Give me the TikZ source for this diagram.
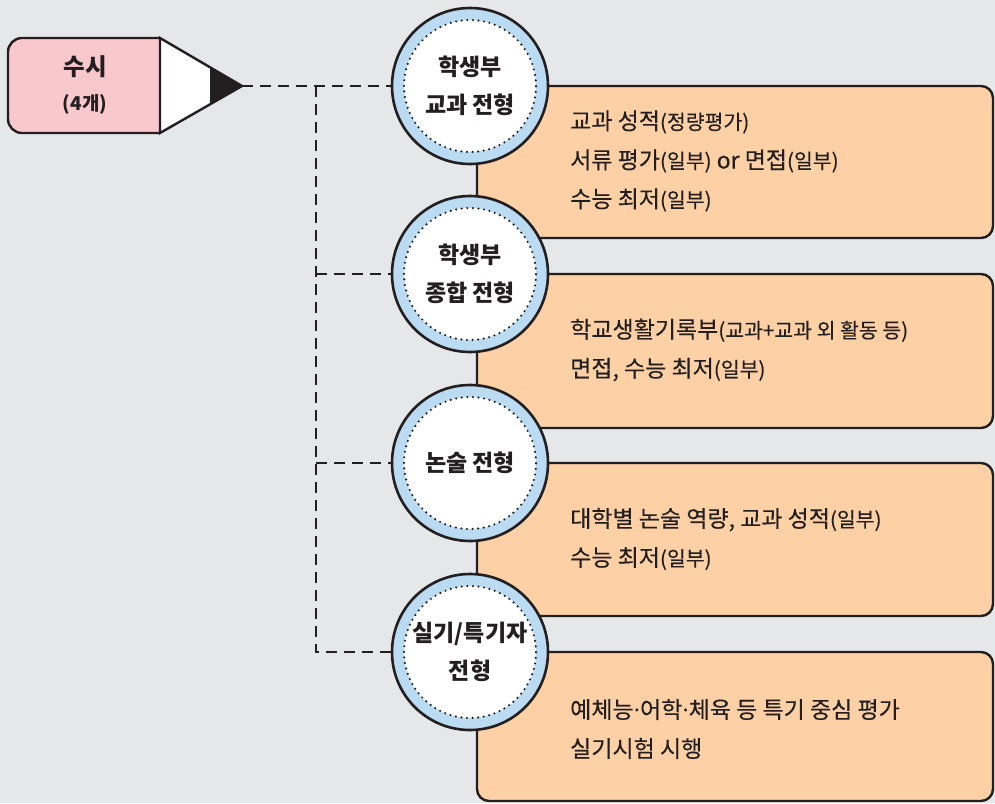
\documentclass[tikz,border=0pt]{standalone}
\usepackage{fontspec}
\setmainfont{Noto Sans CJK KR}
\newfontfamily\krmid{Noto Sans CJK KR}[FakeBold=0.3]
\definecolor{bg}{HTML}{E6E7E9}
\definecolor{ink}{HTML}{231F20}
\definecolor{peach}{HTML}{FDD0A5}
\definecolor{ring}{HTML}{BADBF2}
\definecolor{pinkbox}{HTML}{F8C8CC}
\tikzset{
  conn/.style={draw=ink, line width=2.4pt, dash pattern=on 11pt off 7pt},
  infobox/.style={draw=ink, fill=peach, line width=2.4pt, rounded corners=12pt},
  stagecirc/.style={circle, draw=ink, fill=ring, line width=2.6pt, minimum size=156pt, inner sep=0pt,
    align=center, text=ink, font=\fontsize{23}{38}\selectfont\bfseries,
    path picture={\draw[ink, fill=white, line width=2.4pt, line cap=round, dash pattern=on 0pt off 5.6pt]
      (path picture bounding box.center) circle (66pt);}},
  infotext/.style={anchor=west, inner sep=0pt, align=left, text=ink, font=\krmid\fontsize{23}{39}\selectfont},
}
\newcommand{\sm}[1]{{\fontsize{20.5}{20.5}\selectfont #1}}
\newcommand{\md}{\raisebox{0.3em}{.}}
\begin{document}
\begin{tikzpicture}[x=1pt, y=-1pt]
\fill[bg] (0,0) rectangle (995,803);
\useasboundingbox (0,0) rectangle (995,803);

% left pencil box
\begin{scope}
  \clip (0,0) rectangle (160,803);
  \draw[ink, fill=pinkbox, line width=2.4pt, rounded corners=14pt] (8,38) rectangle (200,133);
\end{scope}
\draw[ink, fill=white, line width=2.4pt, line join=miter] (160,38) -- (242,86) -- (160,133) -- cycle;
\fill[ink] (210,68) -- (242,86) -- (210,104) -- cycle;
\coordinate (tip) at (242,86);
\node[text=ink, font=\fontsize{23.5}{23.5}\selectfont\bfseries, inner sep=0pt] (susi) at (85,67) {수시};
\node[text=ink, font=\fontsize{19}{19}\selectfont\bfseries, inner sep=0pt] (susicount) at (85,104) {(4개)};

% connectors
\coordinate (j) at (316,86);
\coordinate (c1w) at (392,86);
\coordinate (c2w) at (392,274);
\coordinate (c3w) at (392,463);
\coordinate (c4w) at (392,652);
\draw[conn] (tip) -- (c1w);
\draw[conn] (j) |- (c4w);
\draw[conn] (j |- c2w) -- (c2w);
\draw[conn] (j |- c3w) -- (c3w);

% info boxes
\draw[infobox] (477,86) rectangle (993,238);
\draw[infobox] (477,274) rectangle (993,428);
\draw[infobox] (477,463) rectangle (993,616);
\draw[infobox] (477,652) rectangle (993,801);

\node[infotext] (t1) at (570,161) {교과 성적\sm{(정량평가)}\\서류 평가\sm{(일부)} or 면접\sm{(일부)}\\수능 최저\sm{(일부)}};
\node[infotext] (t2) at (570,350) {학교생활기록부\sm{(교과+교과 외 활동 등)}\\면접, 수능 최저\sm{(일부)}};
\node[infotext] (t3) at (570,539) {대학별 논술 역량, 교과 성적\sm{(일부)}\\수능 최저\sm{(일부)}};
\node[infotext] (t4) at (570,729) {예체능\md 어학\md 체육 등 특기 중심 평가\\실기시험 시행};

% stage circles
\node[stagecirc] (c1) at (470,86) {학생부\\교과 전형};
\node[stagecirc] (c2) at (470,274) {학생부\\종합 전형};
\node[stagecirc] (c3) at (470,463) {논술 전형};
\node[stagecirc] (c4) at (470,652) {실기/특기자\\전형};
\end{tikzpicture}
\end{document}
